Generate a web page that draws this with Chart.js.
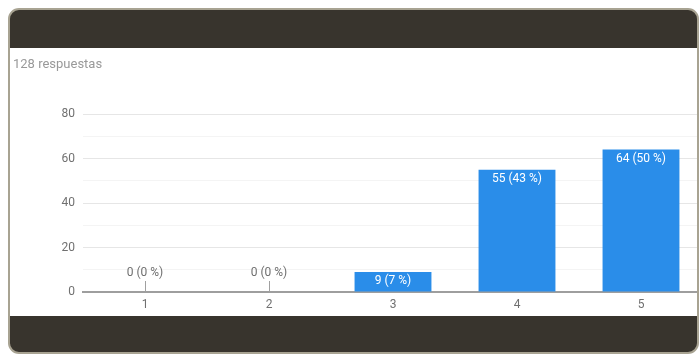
<!DOCTYPE html>
<html>
<head>
<meta charset="utf-8">
<script src="https://cdn.jsdelivr.net/npm/chart.js@4/dist/chart.umd.min.js"></script>
<style>
  body { margin: 0; background: #fff; overflow: hidden; width: 699px; height: 354px; }
  #marco {
    position: absolute; left: 8px; top: 8px; width: 687px; height: 342px;
    border: 2px solid #a8a392; border-radius: 11px; background: #38342d; overflow: hidden;
  }
  #blanco { position: absolute; left: 0; top: 38px; width: 700px; height: 268px; background: #fff; }
</style>
</head>
<body>
<div id="marco">
  <div id="blanco"><canvas id="grafica" width="700" height="268"></canvas></div>
</div>
<script>
// Datos de la gráfica
const categorias = ["1", "2", "3", "4", "5"];
const respuestas = [0, 0, 9, 55, 64];
const totalRespuestas = 128;
const marcasY = [0, 20, 40, 60, 80];

const fuente = "Roboto, 'Noto Sans', sans-serif";

// Etiquetas de cada barra: "n (p %)"
const etiquetasBarras = {
  id: 'etiquetasBarras',
  afterDatasetsDraw(chart) {
    const ctx = chart.ctx;
    const meta = chart.getDatasetMeta(0);
    const y = chart.scales.y;
    ctx.save();
    ctx.font = "12px " + fuente;
    ctx.textAlign = 'center';
    ctx.textBaseline = 'middle';
    meta.data.forEach((barra, i) => {
      const v = respuestas[i];
      const texto = v + " (" + Math.round(v / totalRespuestas * 100) + " %)";
      if (v > 0) {
        ctx.fillStyle = '#ffffff';
        ctx.fillText(texto, barra.x, barra.y + 9);
      } else {
        const base = y.getPixelForValue(0);
        ctx.strokeStyle = '#a0a0a0';
        ctx.lineWidth = 1;
        ctx.beginPath();
        ctx.moveTo(Math.round(barra.x) + 0.5, base);
        ctx.lineTo(Math.round(barra.x) + 0.5, base - 11);
        ctx.stroke();
        ctx.fillStyle = '#6f6f6f';
        ctx.fillText(texto, barra.x, base - 19);
      }
    });
    ctx.restore();
  }
};

// Texto "128 respuestas" arriba a la izquierda
const encabezado = {
  id: 'encabezado',
  afterDraw(chart) {
    const ctx = chart.ctx;
    ctx.save();
    ctx.font = "13px " + fuente;
    ctx.fillStyle = '#999999';
    ctx.textAlign = 'left';
    ctx.textBaseline = 'middle';
    ctx.fillText(totalRespuestas + " respuestas", 3, 17);
    ctx.restore();
  }
};

new Chart(document.querySelector("#grafica"), {
  type: 'bar',
  data: {
    labels: categorias,
    datasets: [{
      data: respuestas,
      backgroundColor: '#2a8de9',
      barPercentage: 0.62,
      categoryPercentage: 1
    }]
  },
  options: {
    responsive: false,
    animation: false,
    layout: { padding: { top: 66, right: 7, left: 0, bottom: 0 } },
    plugins: { legend: { display: false }, tooltip: { enabled: false } },
    scales: {
      x: {
        grid: { display: false, drawTicks: false },
        border: { color: '#9e9e9e', width: 2 },
        ticks: { color: '#707070', font: { family: fuente, size: 12 }, padding: 6 },
        afterFit(s) { s.height = 24; }
      },
      y: {
        min: 0,
        max: 80,
        border: { display: false },
        grid: {
          drawTicks: false,
          color: (c) => marcasY.includes(c.tick.value) ? '#e6e6e6' : '#f4f4f4'
        },
        ticks: {
          stepSize: 10,
          color: '#707070',
          font: { family: fuente, size: 12 },
          padding: 8,
          callback: (v) => marcasY.includes(v) ? v : ''
        },
        afterFit(s) { s.width = 73; }
      }
    }
  },
  plugins: [etiquetasBarras, encabezado]
});
</script>
</body>
</html>
